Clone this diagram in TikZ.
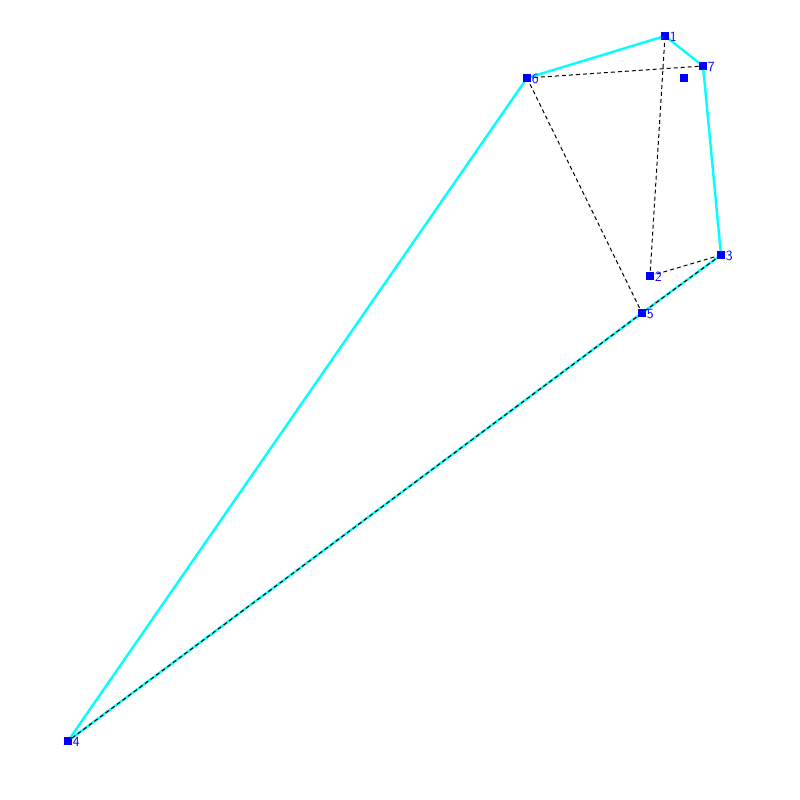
\documentclass[tikz,border=0pt]{standalone}
\usepackage{tikz}
\usetikzlibrary{positioning}
\definecolor{hullcyan}{HTML}{00FFFF}
\definecolor{ptblue}{HTML}{0000FF}
\tikzset{
  pt/.style={draw=none,fill=ptblue,minimum size=8pt,inner sep=0pt},
  ptlab/.style={text=ptblue,font=\sffamily\fontsize{14}{14}\selectfont,inner sep=0.5pt,anchor=west},
  hull/.style={draw=hullcyan,line width=2.4pt},
  edge/.style={draw=black,line width=1pt,dash pattern=on 4pt off 3pt},
}

\begin{document}
\begin{tikzpicture}[x=1pt,y=-1pt]
  \useasboundingbox (0,0) rectangle (800,800);
  % points
  \coordinate (p1) at (665,36);
  \coordinate (p2) at (650,276);
  \coordinate (p3) at (721,255);
  \coordinate (p4) at (68,741);
  \coordinate (p5) at (642,313);
  \coordinate (p6) at (527,78);
  \coordinate (p7) at (703,66);
  \coordinate (q) at (684,78);

  % hull
  \draw[hull] (p1) -- (p7) -- (p3) -- (p5) -- (p4) -- (p6) -- cycle;

  % dashed edges
  \foreach \u/\v in {p6/p7,p1/p2,p6/p5,p2/p3,p3/p5,p5/p4}
    \draw[edge] (\u) -- (\v);

  % squares and labels
  \foreach \i in {1,...,7}{
    \node[pt] (n\i) at (p\i) {};
    \node[ptlab] at ([yshift=-1pt]n\i.east) {\i};
  }
  \node[pt] (nq) at (q) {};
\end{tikzpicture}
\end{document}
